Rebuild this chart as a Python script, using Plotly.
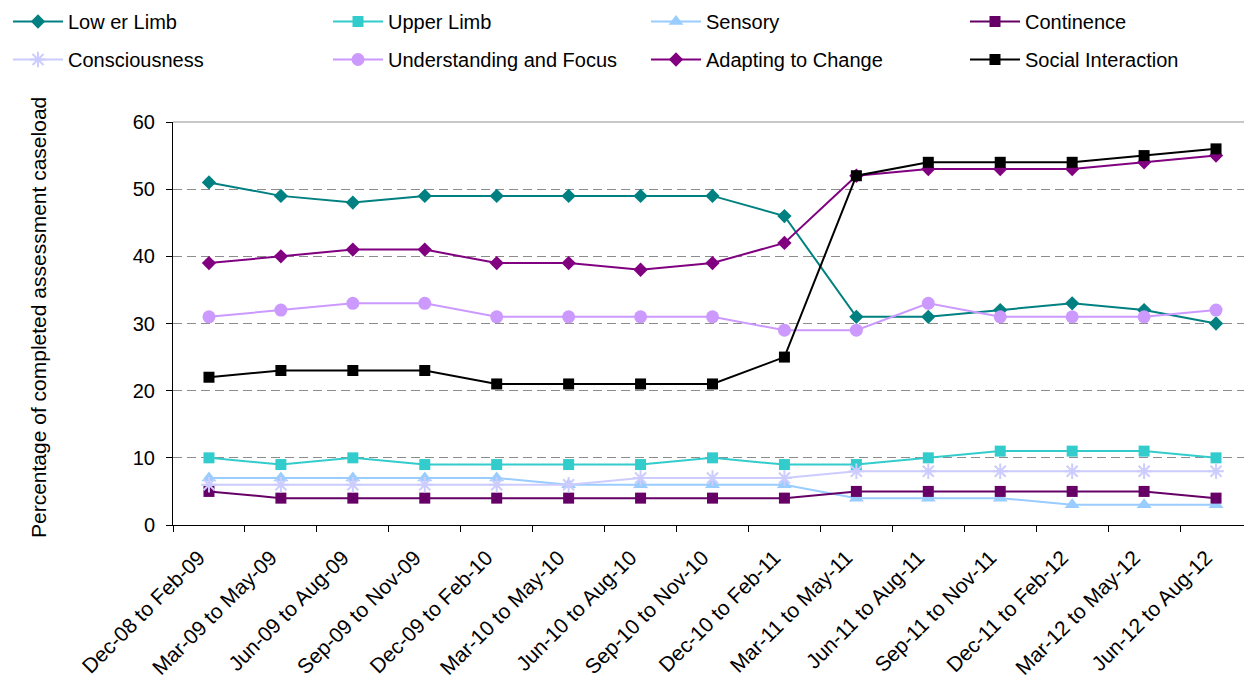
import plotly.graph_objects as go

categories = ["Dec-08 to Feb-09", "Mar-09 to May-09", "Jun-09 to Aug-09", "Sep-09 to Nov-09",
              "Dec-09 to Feb-10", "Mar-10 to May-10", "Jun-10 to Aug-10", "Sep-10 to Nov-10",
              "Dec-10 to Feb-11", "Mar-11 to May-11", "Jun-11 to Aug-11", "Sep-11 to Nov-11",
              "Dec-11 to Feb-12", "Mar-12 to May-12", "Jun-12 to Aug-12"]

lower_limb = [51, 49, 48, 49, 49, 49, 49, 49, 46, 31, 31, 32, 33, 32, 30]
upper_limb = [10, 9, 10, 9, 9, 9, 9, 10, 9, 9, 10, 11, 11, 11, 10]
sensory = [7, 7, 7, 7, 7, 6, 6, 6, 6, 4, 4, 4, 3, 3, 3]
continence = [5, 4, 4, 4, 4, 4, 4, 4, 4, 5, 5, 5, 5, 5, 4]
consciousness = [6, 6, 6, 6, 6, 6, 7, 7, 7, 8, 8, 8, 8, 8, 8]
understanding = [31, 32, 33, 33, 31, 31, 31, 31, 29, 29, 33, 31, 31, 31, 32]
adapting = [39, 40, 41, 41, 39, 39, 38, 39, 42, 52, 53, 53, 53, 54, 55]
social = [22, 23, 23, 23, 21, 21, 21, 21, 25, 52, 54, 54, 54, 55, 56]

y_ticks = [0, 10, 20, 30, 40, 50, 60]
y_title = "Percentage of completed assessment caseload"

# the page body has an 8px margin, so the figure is sized to fill the rest of the window
W, H = 1244, 674
ML, MR, MT, MB = 165, 0, 114, 157
PW, PH = W - ML - MR, H - MT - MB
FONT = "Liberation Sans, Arial, sans-serif"

# (name, values, color, symbol, size, legend id)
series = [
    ("Low er Limb", lower_limb, "#008080", "diamond", 11, "legend"),
    ("Consciousness", consciousness, "#CCCCFF", "asterisk-open", 13, "legend"),
    ("Upper Limb", upper_limb, "#33CCCC", "square", 11, "legend2"),
    ("Understanding and Focus", understanding, "#CC99FF", "circle", 13, "legend2"),
    ("Sensory", sensory, "#99CCFF", "triangle-up", 13, "legend3"),
    ("Adapting to Change", adapting, "#800080", "diamond", 11, "legend3"),
    ("Continence", continence, "#660066", "square", 11, "legend4"),
    ("Social Interaction", social, "#000000", "square", 11, "legend4"),
]

draw_order = ["Low er Limb", "Upper Limb", "Sensory", "Continence", "Consciousness",
              "Understanding and Focus", "Adapting to Change", "Social Interaction"]
by_name = {s[0]: s for s in series}

fig = go.Figure()
for nm in draw_order:
    name, vals, color, sym, size, leg = by_name[nm]
    mk = dict(symbol=sym, size=size, color=color)
    if sym == "asterisk-open":
        mk["line"] = dict(color=color, width=2)
    else:
        mk["line"] = dict(color=color, width=0)
    fig.add_trace(go.Scatter(
        x=categories, y=vals, name=name, mode="lines+markers",
        line=dict(color=color, width=2), marker=mk,
        legend=leg, legendgroup=name, cliponaxis=False,
    ))


def px_x(px):
    return (px - ML) / PW


def px_y(py):
    return (H - MB - py) / PH


leg_x = [0, 320, 638, 957]
leg_common = dict(xref="paper", yref="paper", xanchor="left", yanchor="top",
                  y=px_y(-6), orientation="v", traceorder="grouped", tracegroupgap=9,
                  font=dict(family=FONT, size=20, color="#000000"),
                  bgcolor="rgba(0,0,0,0)", itemwidth=50)

fig.update_layout(
    width=W, height=H,
    margin=dict(l=ML, r=MR, t=MT, b=MB, autoexpand=False),
    paper_bgcolor="white", plot_bgcolor="white",
    font=dict(family=FONT, color="#000000"),
    legend=dict(x=px_x(leg_x[0]), **leg_common),
    legend2=dict(x=px_x(leg_x[1]), **leg_common),
    legend3=dict(x=px_x(leg_x[2]), **leg_common),
    legend4=dict(x=px_x(leg_x[3]), **leg_common),
    xaxis=dict(
        type="category", categoryorder="array", categoryarray=categories,
        range=[-0.5, len(categories) - 0.5],
        tickangle=-45, tickfont=dict(family=FONT, size=21, color="#000000"),
        ticklabelstandoff=11, ticklabelshift=-10,
        showline=True, linecolor="#000000", linewidth=1,
        ticks="outside", ticklen=6, tickcolor="#000000", tickson="boundaries",
        showgrid=False, zeroline=False, automargin=False,
    ),
    yaxis=dict(
        range=[0, 60], tickvals=y_ticks,
        tickfont=dict(family=FONT, size=20, color="#000000"),
        ticklabelstandoff=7,
        showline=True, linecolor="#000000", linewidth=1,
        ticks="outside", ticklen=6, tickcolor="#000000",
        showgrid=True, gridcolor="#8C8C8C", griddash="9px,5px", gridwidth=1,
        zeroline=False, automargin=False,
    ),
    annotations=[dict(text=y_title, xref="paper", yref="paper", x=px_x(30), y=px_y(310),
                      xanchor="center", yanchor="middle", textangle=-90, showarrow=False,
                      font=dict(family=FONT, size=21, color="#000000"))],
    shapes=[dict(type="line", xref="paper", yref="paper", x0=0, x1=1, y0=1, y1=1,
                 line=dict(color="#C8C8C8", width=2), layer="above")],
)

fig.write_html("out.html")
